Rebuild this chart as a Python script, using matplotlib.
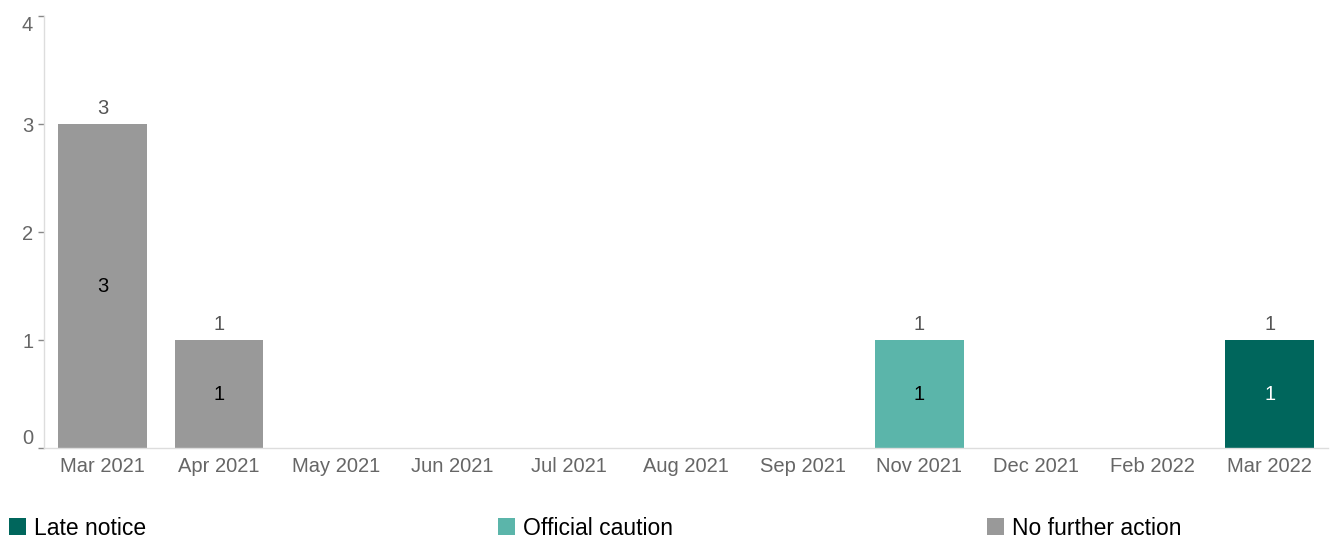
import numpy as np
import matplotlib
matplotlib.use("Agg")
import matplotlib.pyplot as plt
from matplotlib.patches import Patch

plt.rcParams["font.family"] = ["Liberation Sans", "DejaVu Sans"]

months = ["Mar 2021", "Apr 2021", "May 2021", "Jun 2021", "Jul 2021", "Aug 2021",
          "Sep 2021", "Nov 2021", "Dec 2021", "Feb 2022", "Mar 2022"]
late_notice = [0, 0, 0, 0, 0, 0, 0, 0, 0, 0, 1]
official_caution = [0, 0, 0, 0, 0, 0, 0, 1, 0, 0, 0]
no_further_action = [3, 1, 0, 0, 0, 0, 0, 0, 0, 0, 0]

series = [
    ("Late notice", late_notice, "#00665C", "white"),
    ("Official caution", official_caution, "#5BB5AA", "black"),
    ("No further action", no_further_action, "#999999", "black"),
]

fig = plt.figure(figsize=(13.3, 5.39), dpi=100)
ax = fig.add_axes([44 / 1330, 91 / 539, 1284 / 1330, 432 / 539])

x = np.arange(len(months))
bottom = np.zeros(len(months))
for name, vals, color, txt in series:
    vals = np.array(vals, dtype=float)
    ax.bar(x, vals, 0.76, bottom=bottom, color=color, label=name)
    for xi, v, b in zip(x, vals, bottom):
        if v > 0:
            ax.text(xi, b + v / 2, f"{int(v)}", ha="center", va="center",
                    fontsize=14.5, color=txt)
    bottom += vals

for xi, t in zip(x, bottom):
    if t > 0:
        ax.annotate(f"{int(t)}", (xi, t), xytext=(0, 4), textcoords="offset points",
                    ha="center", va="bottom", fontsize=14.5, color="#555555")

ax.set_xlim(-0.5, len(months) - 0.5)
ax.set_ylim(0, 4)
ax.set_yticks([0, 1, 2, 3, 4])
ax.set_xticks(x)
ax.set_xticklabels(months)
ax.tick_params(axis="x", length=0, pad=6.5, labelsize=14.5, labelcolor="#666666")
ax.tick_params(axis="y", length=4.3, width=1, color="#888888", pad=3.5,
               labelsize=14.5, labelcolor="#666666")
ylabels = ax.get_yticklabels()
ylabels[0].set_va("bottom")
ylabels[-1].set_va("top")
for s in ["top", "right"]:
    ax.spines[s].set_visible(False)
for s in ["left", "bottom"]:
    ax.spines[s].set_color("#dddddd")
    ax.spines[s].set_linewidth(1)

# legend entries laid out at fixed horizontal positions
for i, (name, vals, color, txt) in enumerate(series):
    fig.legend(handles=[Patch(facecolor=color, label=name)],
               loc="lower left", bbox_to_anchor=((4 + i * 489) / 1330, -0.010),
               frameon=False, fontsize=16.5, handlelength=0.78, handleheight=0.78,
               handletextpad=0.35, borderaxespad=0, borderpad=0.2)

fig.savefig("out.png", dpi=100)
